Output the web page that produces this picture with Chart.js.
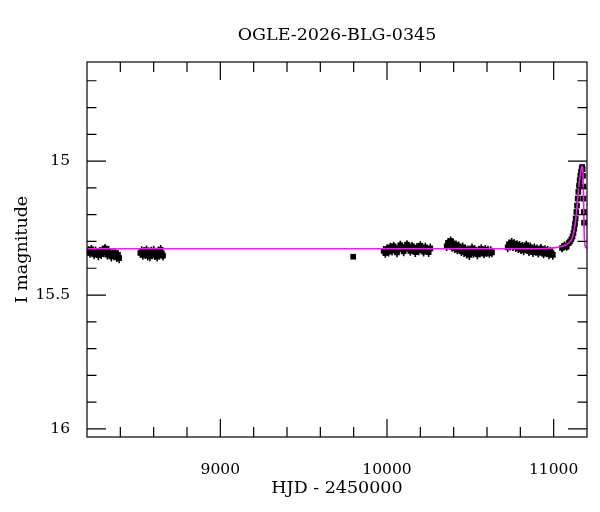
<!DOCTYPE html>
<html>
<head>
<meta charset="utf-8">
<script src="https://cdn.jsdelivr.net/npm/chart.js@4.4.1/dist/chart.umd.min.js"></script>
<style>
  html, body { margin: 0; padding: 0; background: #fff; }
  #wrap { width: 600px; height: 512px; }
</style>
</head>
<body>
<div id="wrap"><canvas id="lightCurve"></canvas></div>
<script>
const chartTitle = 'OGLE-2026-BLG-0345';
const xTitle = 'HJD - 2450000';
const yTitle = 'I magnitude';

const xMajorTicks = [9000, 10000, 11000];
const xMinorTicks = [8400, 8600, 8800, 9200, 9400, 9600, 9800, 10200, 10400, 10600, 10800];
const yMajorTicks = [15, 15.5, 16];
const yMinorTicks = [14.7, 14.8, 14.9, 15.1, 15.2, 15.3, 15.4, 15.6, 15.7, 15.8, 15.9];

// photometry: [HJD - 2450000, I mag, error]
const season2018 = [
    [8208, 15.335, 0.017], [8218, 15.343, 0.018], [8226, 15.330, 0.017], [8235, 15.338, 0.018],
    [8243, 15.348, 0.018], [8252, 15.336, 0.017], [8260, 15.342, 0.018], [8268, 15.351, 0.019],
    [8276, 15.339, 0.018], [8285, 15.347, 0.018], [8293, 15.333, 0.017], [8300, 15.341, 0.018],
    [8308, 15.326, 0.017], [8315, 15.338, 0.018], [8322, 15.349, 0.018], [8330, 15.335, 0.018],
    [8338, 15.344, 0.018], [8346, 15.356, 0.019], [8355, 15.347, 0.018], [8362, 15.352, 0.018],
    [8370, 15.343, 0.018], [8378, 15.358, 0.019], [8386, 15.350, 0.018], [8393, 15.362, 0.019]
];
const season2019 = [
    [8520, 15.343, 0.018], [8528, 15.336, 0.018], [8535, 15.350, 0.018], [8542, 15.339, 0.018],
    [8550, 15.347, 0.018], [8557, 15.333, 0.018], [8564, 15.352, 0.019], [8571, 15.341, 0.018],
    [8578, 15.355, 0.019], [8585, 15.338, 0.018], [8592, 15.348, 0.018], [8600, 15.334, 0.018],
    [8607, 15.351, 0.018], [8614, 15.342, 0.018], [8621, 15.356, 0.019], [8628, 15.337, 0.018],
    [8635, 15.349, 0.018], [8642, 15.331, 0.018], [8649, 15.345, 0.018], [8656, 15.353, 0.018]
];
const single2022 = [
    [9797, 15.357, 0.007]
];
const season2023 = [
    [9980, 15.335, 0.018], [9990, 15.343, 0.018], [10000, 15.328, 0.018], [10010, 15.338, 0.018],
    [10020, 15.322, 0.017], [10030, 15.334, 0.018], [10040, 15.318, 0.017], [10050, 15.330, 0.018],
    [10060, 15.341, 0.018], [10070, 15.326, 0.018], [10080, 15.314, 0.017], [10090, 15.329, 0.018],
    [10100, 15.337, 0.018], [10110, 15.321, 0.017], [10120, 15.312, 0.017], [10130, 15.327, 0.018],
    [10140, 15.335, 0.018], [10150, 15.318, 0.017], [10160, 15.329, 0.018], [10170, 15.340, 0.018],
    [10180, 15.323, 0.017], [10190, 15.333, 0.018], [10200, 15.316, 0.017], [10210, 15.328, 0.018],
    [10220, 15.338, 0.018], [10230, 15.322, 0.017], [10240, 15.331, 0.018], [10250, 15.340, 0.018],
    [10260, 15.326, 0.018]
];
const season2024 = [
    [10358, 15.318, 0.018], [10366, 15.305, 0.017], [10374, 15.312, 0.018], [10382, 15.298, 0.017],
    [10390, 15.320, 0.018], [10398, 15.308, 0.017], [10406, 15.325, 0.018], [10414, 15.313, 0.017],
    [10422, 15.330, 0.018], [10430, 15.318, 0.018], [10438, 15.327, 0.018], [10446, 15.336, 0.018],
    [10454, 15.322, 0.018], [10462, 15.340, 0.018], [10470, 15.329, 0.018], [10478, 15.345, 0.019],
    [10486, 15.333, 0.018], [10494, 15.350, 0.019], [10502, 15.338, 0.018], [10510, 15.326, 0.018],
    [10518, 15.343, 0.018], [10526, 15.331, 0.018], [10534, 15.339, 0.018], [10542, 15.348, 0.018],
    [10550, 15.334, 0.018], [10558, 15.342, 0.018], [10566, 15.328, 0.018], [10574, 15.337, 0.018],
    [10582, 15.345, 0.018], [10590, 15.331, 0.018], [10598, 15.340, 0.018], [10606, 15.334, 0.018],
    [10614, 15.343, 0.018], [10622, 15.336, 0.018], [10630, 15.341, 0.018]
];
const season2025 = [
    [10724, 15.322, 0.018], [10732, 15.310, 0.017], [10740, 15.316, 0.018], [10748, 15.304, 0.017],
    [10756, 15.318, 0.018], [10764, 15.309, 0.017], [10772, 15.321, 0.018], [10780, 15.312, 0.017],
    [10788, 15.325, 0.018], [10796, 15.316, 0.018], [10804, 15.329, 0.018], [10812, 15.320, 0.018],
    [10820, 15.333, 0.018], [10828, 15.324, 0.018], [10836, 15.314, 0.017], [10844, 15.328, 0.018],
    [10852, 15.336, 0.018], [10860, 15.322, 0.018], [10868, 15.331, 0.018], [10876, 15.340, 0.018],
    [10884, 15.326, 0.018], [10892, 15.335, 0.018], [10900, 15.329, 0.018], [10908, 15.342, 0.018],
    [10916, 15.333, 0.018], [10924, 15.327, 0.018], [10932, 15.338, 0.018], [10940, 15.345, 0.018],
    [10948, 15.332, 0.018], [10956, 15.340, 0.018], [10964, 15.335, 0.018], [10972, 15.348, 0.018],
    [10980, 15.338, 0.018], [10988, 15.344, 0.018], [10995, 15.350, 0.018]
];
const season2026 = [
    [11050, 15.324, 0.016], [11064, 15.316, 0.016], [11078, 15.320, 0.015], [11090, 15.306, 0.015],
    [11098, 15.300, 0.015], [11106, 15.292, 0.015], [11113, 15.282, 0.015], [11119, 15.268, 0.014],
    [11124, 15.252, 0.014], [11128, 15.234, 0.014], [11132, 15.214, 0.014], [11136, 15.190, 0.014],
    [11140, 15.166, 0.013], [11144, 15.140, 0.013], [11148, 15.115, 0.012], [11152, 15.092, 0.011],
    [11156, 15.072, 0.010], [11160, 15.055, 0.009], [11164, 15.040, 0.008], [11168, 15.028, 0.008],
    [11171, 15.022, 0.007], [11174, 15.030, 0.008], [11176, 15.055, 0.009], [11177.5, 15.095, 0.010],
    [11179, 15.140, 0.011], [11180.5, 15.190, 0.012], [11182, 15.230, 0.013]
];

// microlensing model curve
const modelHJD = [8200, 10800, 10950, 11020, 11060, 11100, 11115, 11125, 11132, 11140, 11147, 11153,
                  11159, 11164, 11168, 11171, 11174, 11176, 11178, 11180, 11182, 11184, 11187, 11192, 11200];
const modelMag = [15.327, 15.327, 15.326, 15.322, 15.316, 15.300, 15.280, 15.250, 15.220, 15.170, 15.120, 15.085,
                  15.055, 15.035, 15.022, 15.018, 15.025, 15.050, 15.100, 15.170, 15.240, 15.285, 15.310, 15.321, 15.325];

const seasons = [season2018, season2019, single2022, season2023, season2024, season2025, season2026];
const photometry = seasons.flat().map(p => ({ x: p[0], y: p[1], e: p[2] }));
const model = modelHJD.map((t, i) => ({ x: t, y: modelMag[i] }));

const serif = "'DejaVu Serif', serif";
Chart.defaults.color = '#000';
Chart.defaults.font.family = serif;

const errorBars = {
    id: 'errorBars',
    beforeDatasetsDraw(chart) {
        const { ctx, chartArea, scales: { x, y } } = chart;
        ctx.save();
        ctx.beginPath();
        ctx.rect(chartArea.left, chartArea.top, chartArea.right - chartArea.left, chartArea.bottom - chartArea.top);
        ctx.clip();
        ctx.strokeStyle = '#000';
        ctx.lineWidth = 1.6;
        ctx.beginPath();
        chart.data.datasets[1].data.forEach(p => {
            const px = x.getPixelForValue(p.x);
            ctx.moveTo(px, y.getPixelForValue(p.y - p.e));
            ctx.lineTo(px, y.getPixelForValue(p.y + p.e));
        });
        ctx.stroke();
        ctx.restore();
    }
};

const frameTicks = {
    id: 'frameTicks',
    afterDatasetsDraw(chart) {
        const { ctx, chartArea: a, scales: { x, y } } = chart;
        ctx.save();
        ctx.strokeStyle = '#000';
        ctx.lineWidth = 1.2;
        ctx.strokeRect(a.left, a.top, a.right - a.left, a.bottom - a.top);
        ctx.beginPath();
        const xTick = (v, len) => {
            const px = x.getPixelForValue(v);
            ctx.moveTo(px, a.bottom); ctx.lineTo(px, a.bottom - len);
            ctx.moveTo(px, a.top); ctx.lineTo(px, a.top + len);
        };
        const yTick = (v, len) => {
            const py = y.getPixelForValue(v);
            ctx.moveTo(a.left, py); ctx.lineTo(a.left + len, py);
            ctx.moveTo(a.right, py); ctx.lineTo(a.right - len, py);
        };
        xMajorTicks.forEach(v => xTick(v, 18));
        xMinorTicks.forEach(v => xTick(v, 10));
        yMajorTicks.forEach(v => yTick(v, 19));
        yMinorTicks.forEach(v => yTick(v, 9.5));
        ctx.stroke();
        ctx.restore();
    }
};

new Chart(document.getElementById('lightCurve'), {
    type: 'scatter',
    data: {
        datasets: [
            {
                label: 'model',
                type: 'line',
                data: model,
                borderColor: 'rgb(235, 30, 235)',
                borderWidth: 1.6,
                pointRadius: 0,
                cubicInterpolationMode: 'monotone',
                fill: false
            },
            {
                label: 'OGLE I',
                data: photometry,
                pointStyle: 'rect',
                pointRadius: 4,
                backgroundColor: '#000',
                borderColor: '#000',
                borderWidth: 0
            }
        ]
    },
    options: {
        responsive: true,
        maintainAspectRatio: false,
        animation: false,
        layout: { padding: { left: 0, right: 13, top: 0, bottom: 0 } },
        plugins: {
            legend: { display: false },
            tooltip: { enabled: false },
            title: {
                display: true,
                text: chartTitle,
                fullSize: false,
                color: '#000',
                font: { family: serif, size: 17.5, weight: 'normal', lineHeight: 1.2 },
                padding: { top: 24.5, bottom: 16.5 }
            }
        },
        scales: {
            x: {
                type: 'linear',
                min: 8200,
                max: 11200,
                afterBuildTicks: s => { s.ticks = xMajorTicks.map(v => ({ value: v })); },
                afterFit: s => { s.height = 75; },
                grid: { display: false },
                border: { display: false },
                ticks: {
                    color: '#000',
                    padding: 16,
                    maxRotation: 0,
                    font: { family: serif, size: 15.5 },
                    callback: v => String(v)
                },
                title: {
                    display: true,
                    text: xTitle,
                    color: '#000',
                    font: { family: serif, size: 17.5, lineHeight: 1.2 },
                    padding: { top: 0, bottom: 13.5 }
                }
            },
            y: {
                type: 'linear',
                reverse: true,
                min: 14.63,
                max: 16.03,
                afterBuildTicks: s => { s.ticks = yMajorTicks.map(v => ({ value: v })); },
                afterFit: s => { s.width = 87; },
                grid: { display: false },
                border: { display: false },
                ticks: {
                    color: '#000',
                    padding: 9,
                    font: { family: serif, size: 15.5 },
                    callback: v => String(v)
                },
                title: {
                    display: true,
                    text: yTitle,
                    color: '#000',
                    font: { family: serif, size: 17.5, lineHeight: 1.2 },
                    padding: { top: 11.5, bottom: 0 }
                }
            }
        }
    },
    plugins: [errorBars, frameTicks]
});
</script>
</body>
</html>
